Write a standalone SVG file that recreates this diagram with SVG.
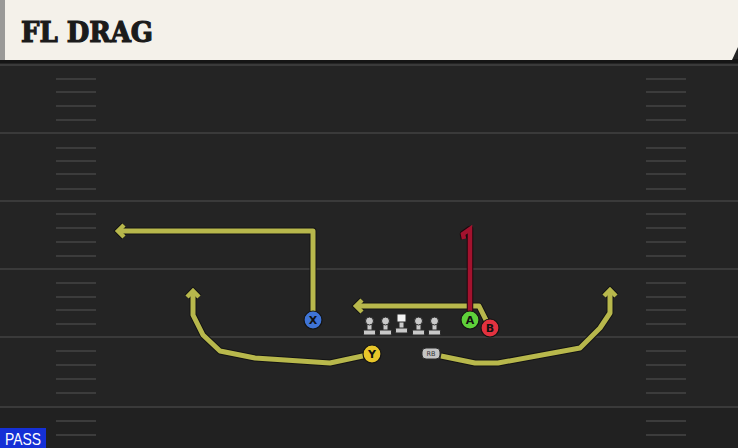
<svg xmlns="http://www.w3.org/2000/svg" width="738" height="448" viewBox="0 0 738 448">
<defs>
<style>
.fl{stroke:#3a3a3a;stroke-width:2}
.hm{stroke:#3c3c3c;stroke-width:2}
.ro{fill:none;stroke:#141414;stroke-width:7;stroke-linejoin:round}
.ri{fill:none;stroke:#b8b84c;stroke-width:5;stroke-linejoin:round}
.ao{fill:none;stroke:#141414;stroke-width:6.5;stroke-linejoin:miter;stroke-linecap:butt}
.ai{fill:none;stroke:#b8b84c;stroke-width:4.5;stroke-linejoin:miter;stroke-linecap:butt}
.lbl{font-family:"DejaVu Sans",sans-serif;font-weight:bold;font-size:11px;fill:#111;text-anchor:middle}
.ol{fill:#c9c9c9;stroke:#2a2a2a;stroke-width:1}
</style>
</defs>
<rect width="738" height="448" fill="#242424"/>
<rect y="407" width="738" height="41" fill="#212121"/>
<g id="field">
<line class="fl" x1="0" y1="65" x2="738" y2="65"/>
<line class="fl" x1="0" y1="133" x2="738" y2="133"/>
<line class="fl" x1="0" y1="201" x2="738" y2="201"/>
<line class="fl" x1="0" y1="269" x2="738" y2="269"/>
<line class="fl" x1="0" y1="337" x2="738" y2="337"/>
<line class="fl" x1="0" y1="407" x2="738" y2="407"/>
<g class="hm">
<line x1="56" y1="79" x2="96" y2="79"/><line x1="56" y1="92" x2="96" y2="92"/><line x1="56" y1="106" x2="96" y2="106"/><line x1="56" y1="120" x2="96" y2="120"/>
<line x1="56" y1="148" x2="96" y2="148"/><line x1="56" y1="161" x2="96" y2="161"/><line x1="56" y1="174" x2="96" y2="174"/><line x1="56" y1="189" x2="96" y2="189"/>
<line x1="56" y1="214" x2="96" y2="214"/><line x1="56" y1="228" x2="96" y2="228"/><line x1="56" y1="242" x2="96" y2="242"/><line x1="56" y1="256" x2="96" y2="256"/>
<line x1="56" y1="283" x2="96" y2="283"/><line x1="56" y1="297" x2="96" y2="297"/><line x1="56" y1="310" x2="96" y2="310"/><line x1="56" y1="324" x2="96" y2="324"/>
<line x1="56" y1="351" x2="96" y2="351"/><line x1="56" y1="365" x2="96" y2="365"/><line x1="56" y1="379" x2="96" y2="379"/><line x1="56" y1="393" x2="96" y2="393"/>
<line x1="56" y1="421" x2="96" y2="421"/><line x1="56" y1="435" x2="96" y2="435"/>
<line x1="646" y1="79" x2="686" y2="79"/><line x1="646" y1="92" x2="686" y2="92"/><line x1="646" y1="106" x2="686" y2="106"/><line x1="646" y1="120" x2="686" y2="120"/>
<line x1="646" y1="148" x2="686" y2="148"/><line x1="646" y1="161" x2="686" y2="161"/><line x1="646" y1="174" x2="686" y2="174"/><line x1="646" y1="189" x2="686" y2="189"/>
<line x1="646" y1="214" x2="686" y2="214"/><line x1="646" y1="228" x2="686" y2="228"/><line x1="646" y1="242" x2="686" y2="242"/><line x1="646" y1="256" x2="686" y2="256"/>
<line x1="646" y1="283" x2="686" y2="283"/><line x1="646" y1="297" x2="686" y2="297"/><line x1="646" y1="310" x2="686" y2="310"/><line x1="646" y1="324" x2="686" y2="324"/>
<line x1="646" y1="351" x2="686" y2="351"/><line x1="646" y1="365" x2="686" y2="365"/><line x1="646" y1="379" x2="686" y2="379"/><line x1="646" y1="393" x2="686" y2="393"/>
<line x1="646" y1="421" x2="686" y2="421"/><line x1="646" y1="435" x2="686" y2="435"/>
</g>
</g>
<g id="header">
<rect x="0" y="59" width="738" height="4" fill="#151515"/>
<rect x="0" y="0" width="5" height="60" fill="#9a9a98"/>
<path d="M5,0 H738 V47 L732,60 H5 Z" fill="#f4f1ea"/>
<text x="21" y="42" font-family="'DejaVu Serif',serif" font-weight="bold" font-size="27" fill="#1b1b1b" textLength="132" lengthAdjust="spacingAndGlyphs" stroke="#1b1b1b" stroke-width="1.2">FL DRAG</text>
</g>
<g id="connectors">
<polyline class="ao" points="124,225 118,231 124,237"/>
<polyline class="ro" points="313,318 313,231 119,231"/>
<polyline class="ri" points="313,318 313,231 119,231"/>
<polyline class="ai" points="124,225 118,231 124,237"/>
<polyline class="ao" points="187,297 193,291 199,297"/>
<polyline class="ro" points="372,354 330,363 255,358 220,351 203,335 193,315 193,292"/>
<polyline class="ri" points="372,354 330,363 255,358 220,351 203,335 193,315 193,292"/>
<polyline class="ai" points="187,297 193,291 199,297"/>
<polyline class="ao" points="604,296 610,290 616,296"/>
<polyline class="ro" points="441,356 475,363 498,363 580,348 600,328 610,313 610,291"/>
<polyline class="ri" points="441,356 475,363 498,363 580,348 600,328 610,313 610,291"/>
<polyline class="ai" points="604,296 610,290 616,296"/>
<polyline class="ao" points="362,300 356,306 362,312"/>
<polyline class="ro" points="490,328 479,306 357,306"/>
<polyline class="ri" points="490,328 479,306 357,306"/>
<polyline class="ai" points="362,300 356,306 362,312"/>
<path d="M470,320 V229 L463,234 L464,239" fill="none" stroke="#1a0a0e" stroke-width="6.5" stroke-linejoin="round"/>
<path d="M470,320 V229 L463,234 L464,239" fill="none" stroke="#a3122e" stroke-width="4.5"/>
</g>
<g id="line">
<g id="lt">
<rect class="ol" x="367" y="322" width="5" height="9"/><circle class="ol" cx="369.5" cy="321" r="4"/><rect class="ol" x="363.5" y="330" width="12" height="5" rx="1"/>
</g>
<g id="lg">
<rect class="ol" x="383" y="322" width="5" height="9"/><circle class="ol" cx="385.5" cy="321" r="4"/><rect class="ol" x="379.5" y="330" width="12" height="5" rx="1"/>
</g>
<g id="c">
<rect class="ol" x="399" y="321" width="5" height="8"/><rect x="397" y="314" width="9" height="8" fill="#f4f4f4" stroke="#2a2a2a" stroke-width="1"/><rect class="ol" x="395.5" y="328" width="12" height="5" rx="1"/>
</g>
<g id="rg">
<rect class="ol" x="416" y="322" width="5" height="9"/><circle class="ol" cx="418.5" cy="321" r="4"/><rect class="ol" x="412.5" y="330" width="12" height="5" rx="1"/>
</g>
<g id="rt">
<rect class="ol" x="432" y="322" width="5" height="9"/><circle class="ol" cx="434.5" cy="321" r="4"/><rect class="ol" x="428.5" y="330" width="12" height="5" rx="1"/>
</g>
</g>
<g id="X">
<circle cx="313" cy="320" r="9" fill="#3f74d6" stroke="#141414" stroke-width="1.2"/>
<text class="lbl" x="313" y="324">X</text>
</g>
<g id="Y">
<circle cx="372" cy="354" r="9" fill="#e8c62a" stroke="#141414" stroke-width="1.2"/>
<text class="lbl" x="372" y="358">Y</text>
</g>
<g id="A">
<circle cx="470" cy="320" r="9" fill="#5fd13a" stroke="#141414" stroke-width="1.2"/>
<text class="lbl" x="470" y="324">A</text>
</g>
<g id="B">
<circle cx="490" cy="328" r="9" fill="#e2323f" stroke="#141414" stroke-width="1.2"/>
<text class="lbl" x="490" y="332">B</text>
</g>
<g id="RB">
<rect x="422" y="348" width="18" height="11" rx="4" fill="#c4c4c4" stroke="#2a2a2a" stroke-width="1"/>
<text x="431" y="356" font-family="'DejaVu Sans',sans-serif" font-size="6.5" fill="#333" text-anchor="middle">RB</text>
</g>
<g id="pass">
<rect x="0" y="428" width="46" height="20" fill="#1530d6"/>
<text x="5" y="445" font-family="'Liberation Sans',Arial,sans-serif" font-size="16.5" fill="#ffffff" textLength="36" lengthAdjust="spacingAndGlyphs">PASS</text>
</g>
</svg>
